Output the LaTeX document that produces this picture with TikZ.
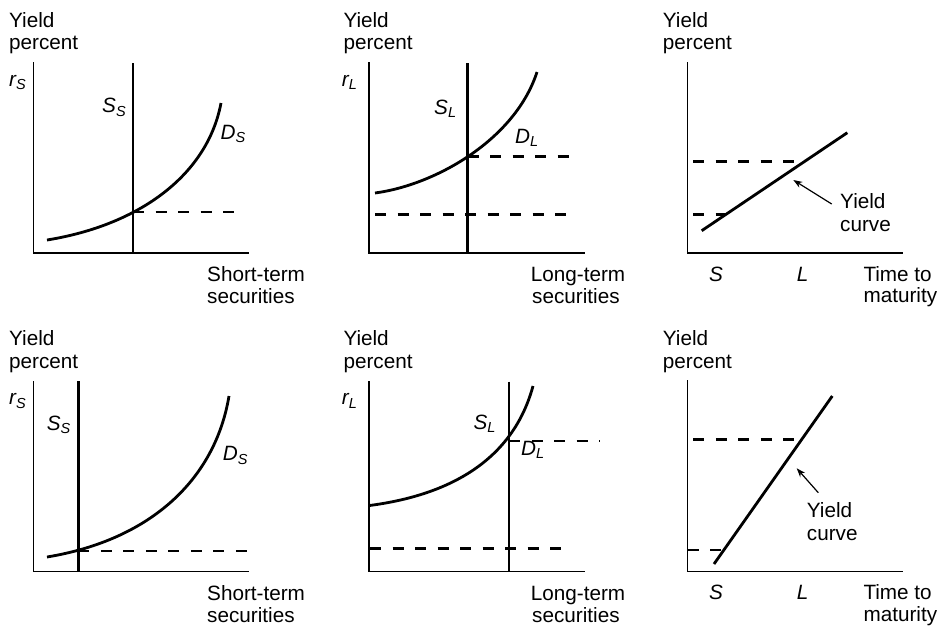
\documentclass[tikz,border=0pt]{standalone}
\usepackage{fontspec}
\setmainfont{Liberation Sans}
\usetikzlibrary{arrows.meta}
\newcommand\lsub[1]{\raisebox{-3.5pt}{\fontsize{14.5}{14.5}\selectfont\itshape #1}}
\tikzset{
  txt/.style={font=\fontsize{20.7}{22.5}\selectfont, inner sep=0pt, anchor=base west},
  lab/.style={font=\fontsize{20.7}{22.5}\selectfont\itshape, inner sep=0pt, anchor=base west},
  labc/.style={font=\fontsize{20.7}{22.5}\selectfont\itshape, inner sep=0pt, anchor=base},
  axis/.style={line width=1.4pt},
  curve/.style={line width=2.8pt},
  supply/.style={line width=2.6pt},
  dsh/.style={line width=2.5pt, dash pattern=on 11pt off 11.5pt},
  pointer/.style={line width=1.2pt, -{Stealth[length=9pt,width=6.5pt]}}
}
\begin{document}
\begin{tikzpicture}[x=1pt,y=-1pt]
\useasboundingbox (0,0) rectangle (940,627);

% ---------- Panel 1 (top left) ----------
\node[txt] (y1a) at (9,27) {Yield};
\node[txt] (y1b) at (9,49.5) {percent};
\node[lab] (r1) at (9,86) {r\lsub{S}};
\coordinate (a1t) at (33.5,62); \coordinate (a1o) at (33.5,253); \coordinate (a1r) at (249,253);
\draw[axis] (a1t) -- (a1o) -- (a1r);
\coordinate (s1t) at (133,63); \coordinate (s1b) at (133,253);
\draw[supply] (s1t) -- (s1b);
\node[lab] (ss1) at (102,112.5) {S\lsub{S}};
\coordinate (d1a) at (47,240); \coordinate (d1b) at (221,103);
\draw[curve] (d1a) .. controls (140,225) and (207.6,174.5) .. (d1b);
\node[lab] (ds1) at (220.5,139) {D\lsub{S}};
\coordinate (e1) at (133,212); \coordinate (e1r) at (240,212);
\draw[dsh] (e1) -- (e1r);
\node[txt] (x1a) at (207,281.5) {Short-term};
\node[txt] (x1b) at (207,303.5) {securities};

% ---------- Panel 2 (top middle) ----------
\node[txt] (y2a) at (343.3,27) {Yield};
\node[txt] (y2b) at (343.3,49.5) {percent};
\node[lab] (r2) at (341.7,86) {r\lsub{L}};
\coordinate (a2t) at (369,62); \coordinate (a2o) at (369,253); \coordinate (a2r) at (585,253);
\draw[axis] (a2t) -- (a2o) -- (a2r);
\coordinate (s2t) at (467.7,63); \coordinate (s2b) at (467.7,253);
\draw[supply] (s2t) -- (s2b);
\node[lab] (ss2) at (434,114) {S\lsub{L}};
\coordinate (d2a) at (375,193); \coordinate (d2b) at (537,72);
\draw[curve] (d2a) .. controls (435,185) and (515,140) .. (d2b);
\node[lab] (ds2) at (515,143) {D\lsub{L}};
\coordinate (e2) at (467.7,156.7); \coordinate (e2r) at (575,156.7);
\draw[dsh] (e2) -- (e2r);
\coordinate (f2) at (375,214.3); \coordinate (f2r) at (577,214.3);
\draw[dsh] (f2) -- (f2r);
\node[txt] (x2a) at (530.7,281.5) {Long-term};
\node[txt] (x2b) at (532,303.5) {securities};

% ---------- Panel 3 (top right) ----------
\node[txt] (y3a) at (662.7,27) {Yield};
\node[txt] (y3b) at (662.7,49.5) {percent};
\coordinate (a3t) at (687.7,62); \coordinate (a3o) at (687.7,253); \coordinate (a3r) at (903.3,253);
\draw[axis] (a3t) -- (a3o) -- (a3r);
\coordinate (c3a) at (701.7,230.7); \coordinate (c3b) at (847.3,132.7);
\draw[curve] (c3a) -- (c3b);
\coordinate (g3) at (693,161.7); \coordinate (g3r) at (804,161.7);
\draw[dsh] (g3) -- (g3r);
\coordinate (h3) at (693,214.3); \coordinate (h3r) at (726,214.3);
\draw[dsh] (h3) -- (h3r);
\coordinate (p3s) at (831.7,204); \coordinate (p3e) at (793.3,180);
\draw[pointer] (p3s) -- (p3e);
\node[txt] (yc3a) at (840,208) {Yield};
\node[txt] (yc3b) at (840,231.5) {curve};
\node[labc] (sl3) at (716,281) {S};
\node[labc] (ll3) at (802.5,281) {L};
\node[txt] (t3a) at (863.3,281) {Time to};
\node[txt] (t3b) at (863.3,302.5) {maturity};

% ---------- Panel 4 (bottom left) ----------
\node[txt] (y4a) at (9,345.5) {Yield};
\node[txt] (y4b) at (9,368) {percent};
\node[lab] (r4) at (9,404.5) {r\lsub{S}};
\coordinate (a4t) at (33.5,381); \coordinate (a4o) at (33.5,571.7); \coordinate (a4r) at (249,571.7);
\draw[axis] (a4t) -- (a4o) -- (a4r);
\coordinate (s4t) at (78.3,381); \coordinate (s4b) at (78.3,571.7);
\draw[supply] (s4t) -- (s4b);
\node[lab] (ss4) at (46.7,430) {S\lsub{S}};
\coordinate (d4a) at (47,557); \coordinate (d4b) at (229,396);
\draw[curve] (d4a) .. controls (150,540) and (215,480) .. (d4b);
\node[lab] (ds4) at (222.7,460.5) {D\lsub{S}};
\coordinate (e4) at (78.3,551); \coordinate (e4r) at (255,551);
\draw[dsh] (e4) -- (e4r);
\node[txt] (x4a) at (207,600) {Short-term};
\node[txt] (x4b) at (207,622) {securities};

% ---------- Panel 5 (bottom middle) ----------
\node[txt] (y5a) at (343.3,345.5) {Yield};
\node[txt] (y5b) at (343.3,368) {percent};
\node[lab] (r5) at (341.7,404.5) {r\lsub{L}};
\coordinate (a5t) at (369,381); \coordinate (a5o) at (369,571.7); \coordinate (a5r) at (585,571.7);
\draw[axis] (a5t) -- (a5o) -- (a5r);
\coordinate (s5t) at (509,381.7); \coordinate (s5b) at (509,571.7);
\draw[supply] (s5t) -- (s5b);
\node[lab] (ss5) at (473.3,429) {S\lsub{L}};
\coordinate (d5a) at (369.5,505.5); \coordinate (d5b) at (533,386);
\draw[curve] (d5a) .. controls (450,495) and (513,460) .. (d5b);
\node[lab] (ds5) at (521,455) {D\lsub{L}};
\coordinate (e5) at (509,441); \coordinate (e5r) at (600,441);
\draw[dsh] (e5) -- (e5r);
\coordinate (f5) at (370,548.3); \coordinate (f5r) at (571.7,548.3);
\draw[dsh] (f5) -- (f5r);
\node[txt] (x5a) at (530.7,600) {Long-term};
\node[txt] (x5b) at (532,622) {securities};

% ---------- Panel 6 (bottom right) ----------
\node[txt] (y6a) at (662.7,345.5) {Yield};
\node[txt] (y6b) at (662.7,368) {percent};
\coordinate (a6t) at (687.7,380); \coordinate (a6o) at (687.7,571.7); \coordinate (a6r) at (903.3,571.7);
\draw[axis] (a6t) -- (a6o) -- (a6r);
\coordinate (c6a) at (714,564); \coordinate (c6b) at (832.3,396);
\draw[curve] (c6a) -- (c6b);
\coordinate (g6) at (693.3,439.3); \coordinate (g6r) at (801.8,439.3);
\draw[dsh] (g6) -- (g6r);
\coordinate (h6) at (687.7,550); \coordinate (h6r) at (723.9,550);
\draw[dsh] (h6) -- (h6r);
\coordinate (p6s) at (818.3,492.7); \coordinate (p6e) at (796.7,468.3);
\draw[pointer] (p6s) -- (p6e);
\node[txt] (yc6a) at (806.7,517) {Yield};
\node[txt] (yc6b) at (806.7,540.5) {curve};
\node[labc] (sl6) at (716,599.5) {S};
\node[labc] (ll6) at (802.5,599.5) {L};
\node[txt] (t6a) at (863.3,599.5) {Time to};
\node[txt] (t6b) at (863.3,621) {maturity};
\end{tikzpicture}
\end{document}
